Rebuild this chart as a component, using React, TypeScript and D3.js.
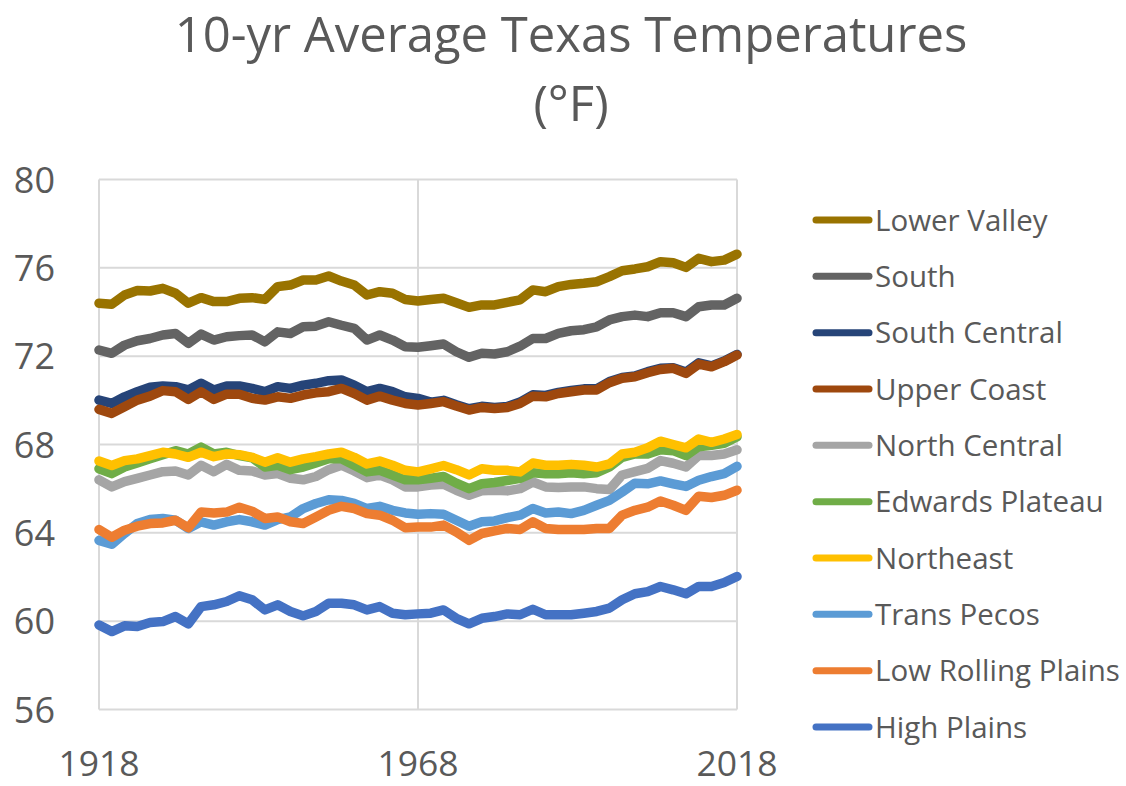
import { useEffect } from "react"
import * as d3 from "d3"

const years = [
  1918, 1920, 1922, 1924, 1926, 1928, 1930, 1932, 1934, 1936, 1938, 1940, 1942,
  1944, 1946, 1948, 1950, 1952, 1954, 1956, 1958, 1960, 1962, 1964, 1966, 1968,
  1970, 1972, 1974, 1976, 1978, 1980, 1982, 1984, 1986, 1988, 1990, 1992,
  1994, 1996, 1998, 2000, 2002, 2004, 2006, 2008, 2010, 2012, 2014, 2016, 2018,
]

const lowerValley = [
  74.4, 74.35, 74.77, 74.97, 74.95, 75.07, 74.85, 74.4, 74.65, 74.47, 74.47, 74.62, 74.65,
  74.57, 75.15, 75.22, 75.45, 75.45, 75.63, 75.4, 75.22, 74.77, 74.92, 74.85, 74.57, 74.5,
  74.57, 74.62, 74.42, 74.21, 74.32, 74.32, 74.44, 74.55, 75.0, 74.92, 75.15, 75.25,
  75.3, 75.37, 75.6, 75.87, 75.95, 76.05, 76.28, 76.23, 76.02, 76.43, 76.28, 76.35, 76.62,
]
const south = [
  72.28, 72.13, 72.5, 72.7, 72.8, 72.96, 73.03, 72.58, 73.0, 72.73, 72.88, 72.93, 72.96,
  72.65, 73.1, 73.03, 73.33, 73.36, 73.56, 73.4, 73.26, 72.73, 72.96, 72.73, 72.43, 72.4,
  72.47, 72.55, 72.2, 71.95, 72.13, 72.1, 72.2, 72.45, 72.8, 72.8, 73.03, 73.15,
  73.2, 73.33, 73.64, 73.79, 73.86, 73.79, 73.97, 73.97, 73.79, 74.24, 74.32, 74.32, 74.62,
]
const southCentral = [
  70.01, 69.86, 70.16, 70.39, 70.59, 70.65, 70.62, 70.47, 70.77, 70.47, 70.65, 70.65, 70.54,
  70.39, 70.62, 70.54, 70.69, 70.77, 70.89, 70.92, 70.69, 70.39, 70.54, 70.39, 70.16, 70.09,
  69.92, 70.0, 69.8, 69.62, 69.73, 69.68, 69.72, 69.92, 70.25, 70.22, 70.36, 70.45,
  70.52, 70.52, 70.85, 71.03, 71.1, 71.3, 71.45, 71.48, 71.28, 71.7, 71.56, 71.78, 72.08,
]
const upperCoast = [
  69.59, 69.41, 69.71, 70.01, 70.19, 70.44, 70.39, 70.04, 70.39, 70.04, 70.28, 70.28, 70.09,
  70.01, 70.16, 70.09, 70.24, 70.34, 70.39, 70.54, 70.31, 70.01, 70.19, 70.01, 69.86, 69.79,
  69.86, 69.94, 69.74, 69.56, 69.68, 69.63, 69.68, 69.86, 70.19, 70.16, 70.31, 70.39,
  70.47, 70.47, 70.8, 71.0, 71.07, 71.25, 71.4, 71.45, 71.22, 71.64, 71.52, 71.75, 72.05,
]
const northCentral = [
  66.4, 66.08, 66.32, 66.47, 66.62, 66.77, 66.8, 66.62, 67.06, 66.77, 67.1, 66.83, 66.8,
  66.62, 66.68, 66.47, 66.4, 66.55, 66.86, 67.06, 66.8, 66.5, 66.62, 66.4, 66.08, 66.08,
  66.16, 66.2, 65.93, 65.7, 65.9, 65.93, 65.9, 66.0, 66.3, 66.08, 66.05, 66.08,
  66.08, 66.0, 65.96, 66.62, 66.77, 66.92, 67.27, 67.15, 66.98, 67.5, 67.5, 67.57, 67.76,
]
const edwardsPlateau = [
  66.9, 66.68, 66.98, 67.16, 67.35, 67.54, 67.72, 67.57, 67.88, 67.57, 67.65, 67.5, 67.4,
  66.98, 67.06, 66.86, 66.98, 67.16, 67.35, 67.35, 67.06, 66.76, 66.83, 66.62, 66.4, 66.4,
  66.47, 66.55, 66.25, 66.0, 66.22, 66.28, 66.37, 66.47, 66.72, 66.68, 66.68, 66.72,
  66.68, 66.72, 66.98, 67.42, 67.57, 67.57, 67.76, 67.72, 67.5, 67.9, 67.96, 68.05, 68.35,
]
const northeast = [
  67.25, 67.05, 67.27, 67.35, 67.5, 67.65, 67.57, 67.42, 67.65, 67.45, 67.57, 67.54, 67.42,
  67.2, 67.4, 67.2, 67.35, 67.45, 67.57, 67.65, 67.42, 67.12, 67.25, 67.06, 66.83, 66.76,
  66.9, 67.05, 66.86, 66.62, 66.9, 66.83, 66.83, 66.76, 67.16, 67.06, 67.06, 67.1,
  67.06, 66.98, 67.12, 67.57, 67.65, 67.85, 68.15, 68.0, 67.85, 68.25, 68.1, 68.25, 68.45,
]
const transPecos = [
  63.66, 63.48, 63.97, 64.42, 64.6, 64.65, 64.57, 64.2, 64.5, 64.35, 64.5, 64.6, 64.5,
  64.35, 64.6, 64.72, 65.1, 65.33, 65.5, 65.47, 65.33, 65.1, 65.2, 65.02, 64.9, 64.84,
  64.87, 64.84, 64.57, 64.3, 64.5, 64.54, 64.69, 64.8, 65.1, 64.9, 64.94, 64.87,
  65.02, 65.25, 65.47, 65.85, 66.25, 66.22, 66.35, 66.22, 66.1, 66.38, 66.55, 66.68, 67.01,
]
const lowRollingPlains = [
  64.15, 63.8, 64.12, 64.3, 64.42, 64.45, 64.57, 64.23, 64.94, 64.9, 64.94, 65.16, 64.98,
  64.65, 64.72, 64.5, 64.42, 64.72, 65.02, 65.2, 65.1, 64.87, 64.8, 64.57, 64.23, 64.26,
  64.26, 64.35, 64.04, 63.66, 63.97, 64.09, 64.2, 64.15, 64.5, 64.2, 64.15, 64.15,
  64.15, 64.2, 64.2, 64.8, 65.02, 65.16, 65.44, 65.25, 65.02, 65.66, 65.6, 65.7, 65.93,
]
const highPlains = [
  59.83, 59.53, 59.79, 59.76, 59.94, 59.98, 60.21, 59.88, 60.66, 60.74, 60.89, 61.15, 60.97,
  60.51, 60.74, 60.44, 60.24, 60.44, 60.81, 60.81, 60.74, 60.51, 60.66, 60.36, 60.29, 60.33,
  60.36, 60.51, 60.13, 59.88, 60.13, 60.21, 60.33, 60.29, 60.54, 60.29, 60.29, 60.29,
  60.36, 60.44, 60.59, 60.97, 61.24, 61.34, 61.57, 61.42, 61.24, 61.57, 61.57, 61.75, 62.02,
]

const regionNames = [
  "Lower Valley", "South", "South Central", "Upper Coast", "North Central",
  "Edwards Plateau", "Northeast", "Trans Pecos", "Low Rolling Plains", "High Plains",
]
const regionValues = [
  lowerValley, south, southCentral, upperCoast, northCentral,
  edwardsPlateau, northeast, transPecos, lowRollingPlains, highPlains,
]
const regionColors = [
  "#997300", "#636363", "#264478", "#9e480e", "#a5a5a5",
  "#70ad47", "#ffc000", "#5b9bd5", "#ed7d31", "#4472c4",
]

const yTicks = [56, 60, 64, 68, 72, 76, 80]
const xTicks = [1918, 1968, 2018]

const W = 1126
const H = 786
const textColor = "#595959"
const font = "'Open Sans', sans-serif"

export default function App() {
  useEffect(() => {
    document.body.style.margin = "0"
  }, [])

  const x = d3.scaleLinear().domain([1918, 2018]).range([99, 737])
  const y = d3.scaleLinear().domain([56, 80]).range([709.5, 179.5])
  const line = d3
    .line<number>()
    .x((_, i) => x(years[i]))
    .y((d) => y(d))

  const legendY = d3.scalePoint<string>().domain(regionNames).range([220, 727])

  return (
    <svg width={W} height={H} style={{ display: "block", background: "#fff" }}>
      <g fontFamily={font} fill={textColor}>
        <text x={571} y={52} fontSize={49} textAnchor="middle">
          10-yr Average Texas Temperatures
        </text>
        <text x={571} y={121} fontSize={49} textAnchor="middle">
          (°F)
        </text>
      </g>

      {/* grid */}
      <g stroke="#d9d9d9" strokeWidth={2}>
        {yTicks.map((t) => (
          <line key={"h" + t} x1={x(1918)} x2={x(2018)} y1={y(t)} y2={y(t)} />
        ))}
        {xTicks.map((t) => (
          <line key={"v" + t} x1={x(t)} x2={x(t)} y1={y(56)} y2={y(80)} />
        ))}
      </g>

      <g fontFamily={font} fill={textColor}>
        {yTicks.map((t) => (
          <text key={t} x={55} y={y(t) + 13} textAnchor="end" fontSize={36}>
            {t}
          </text>
        ))}
        {xTicks.map((t) => (
          <text key={t} x={x(t)} y={775.5} textAnchor="middle" fontSize={35.5}>
            {t}
          </text>
        ))}
      </g>

      <g fill="none" strokeWidth={9.5} strokeLinejoin="round" strokeLinecap="round">
        {regionValues.map((vals, i) => (
          <path key={regionNames[i]} d={line(vals) ?? ""} stroke={regionColors[i]} />
        ))}
      </g>

      <g fontFamily={font} fontSize={29.5} fill={textColor}>
        {regionNames.map((name, i) => (
          <g key={name} transform={`translate(0,${legendY(name)})`}>
            <line x1={816} x2={869} stroke={regionColors[i]} strokeWidth={7} strokeLinecap="round" />
            <text x={875} y={10.5}>
              {name}
            </text>
          </g>
        ))}
      </g>
    </svg>
  )
}
